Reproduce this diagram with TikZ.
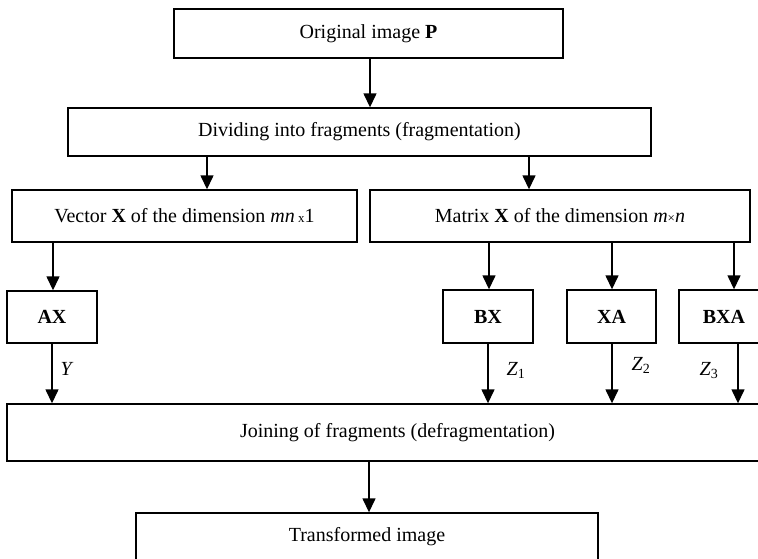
\documentclass[tikz,border=0pt]{standalone}
\usepackage{fontspec}
\setmainfont{Liberation Serif}
\usetikzlibrary{calc, positioning, arrows.meta}
\newcommand{\smallsign}[1]{{\fontsize{13}{15}\selectfont #1}}

\begin{document}
\begin{tikzpicture}
      [x=1pt, y=-1pt,
       box/.style={draw, line width=1.4pt, inner sep=0pt, text centered,
                   font=\fontsize{20}{24}\selectfont},
       arr/.style={-{Triangle[width=13pt,length=14pt]}, line width=1.4pt},
       lbl/.style={font=\fontsize{20}{24}\selectfont, inner sep=1pt}]
      \useasboundingbox (0,0) rectangle (758,558);
      \clip (0,0) rectangle (758,558);
      % nodes %
      \node[box, minimum width=389, minimum height=49] (orig) at (368.5,33.5) {Original image \textbf{P}};
      \node[box, minimum width=583, minimum height=48] (divide) at (359.5,132) {Dividing into fragments (fragmentation)};
      \node[box, minimum width=345, minimum height=52] (vector) at (184.5,216) {Vector \textbf{X} of the dimension \textit{mn}\,\smallsign{x}1};
      \node[box, minimum width=380, minimum height=52] (matrix) at (560,216) {Matrix \textbf{X} of the dimension \textit{m}\smallsign{×}\textit{n}};
      \node[box, minimum width=90, minimum height=52] (ax) at (52,317) {\textbf{AX}};
      \node[box, minimum width=90, minimum height=53] (bx) at (488,316.5) {\textbf{BX}};
      \node[box, minimum width=89, minimum height=53] (xa) at (611.5,316.5) {\textbf{XA}};
      \node[box, minimum width=90, minimum height=53] (bxa) at (724,316.5) {\textbf{BXA}};
      \node[box, minimum width=781, minimum height=57] (join) at (397.5,432.5) {Joining of fragments (defragmentation)};
      \node[box, minimum width=462, minimum height=48] (trans) at (367,537) {Transformed image};

      % edges %
      \draw[arr] (orig.south -| 370,0) -- (divide.north -| 370,0);
      \draw[arr] (divide.south -| 207,0) -- (vector.north -| 207,0);
      \draw[arr] (divide.south -| 529,0) -- (matrix.north -| 529,0);

      \draw[arr] (vector.south -| 53,0) -- (ax.north -| 53,0);
      \draw[arr] (matrix.south -| 489,0) -- (bx.north -| 489,0);
      \draw[arr] (matrix.south -| 612,0) -- (xa.north -| 612,0);
      \draw[arr] (matrix.south -| 734,0) -- (bxa.north -| 734,0);

      \draw[arr] (ax.south -| 52,0) -- node[lbl, right=7pt, pos=0.42] {\textit{Y}} (join.north -| 52,0);
      \draw[arr] (bx.south -| 488,0) -- node[lbl, right=17pt, pos=0.45] {\textit{Z}\textsubscript{1}} (join.north -| 488,0);
      \draw[arr] (xa.south -| 612,0) -- node[lbl, right=18pt, pos=0.37] {\textit{Z}\textsubscript{2}} (join.north -| 612,0);
      \draw[arr] (bxa.south -| 738,0) -- node[lbl, left=18pt, pos=0.45] {\textit{Z}\textsubscript{3}} (join.north -| 738,0);

      \draw[arr] (join.south -| 369,0) -- (trans.north -| 369,0);

    \end{tikzpicture}
\end{document}
